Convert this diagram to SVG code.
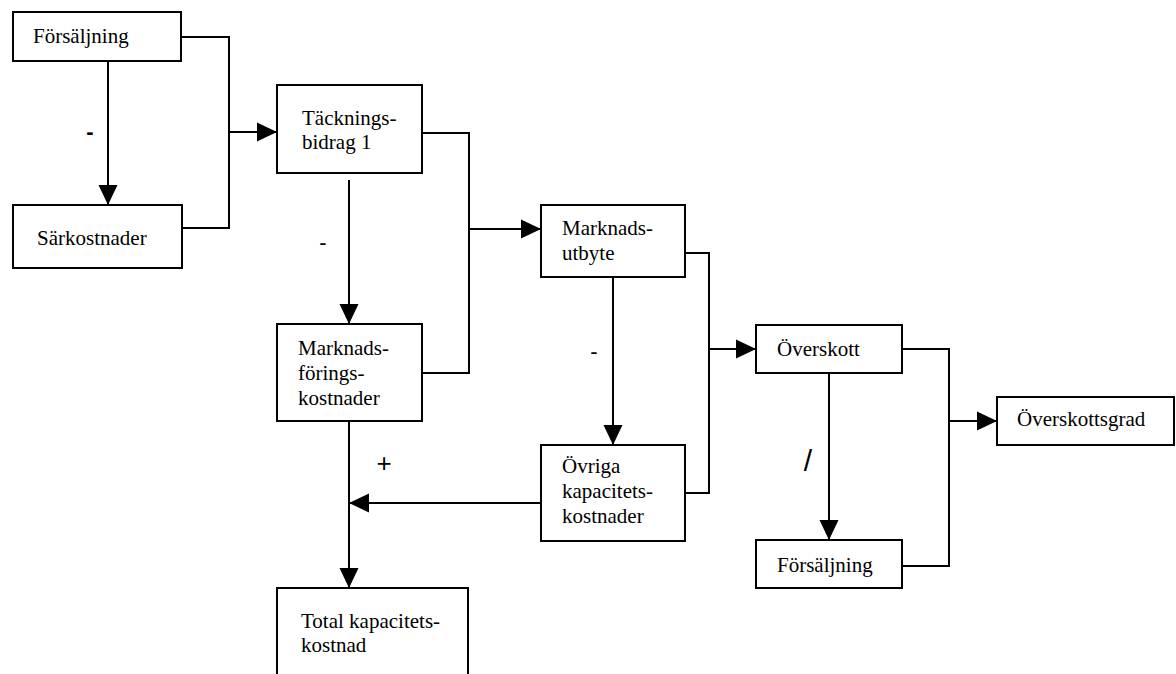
<svg xmlns="http://www.w3.org/2000/svg" width="1176" height="674" viewBox="0 0 1176 674">
<style>
  .box { fill: #fff; stroke: #000; stroke-width: 2; }
  .t { font-family: "Liberation Serif", "Times New Roman", serif; font-size: 21px; fill: #000; }
  .op { font-family: "Liberation Sans", Arial, sans-serif; fill: #000; text-anchor: middle; }
  .c { fill: none; stroke: #000; stroke-width: 2; }
  .a { fill: none; stroke: #000; stroke-width: 2; marker-end: url(#arr); }
</style>
<defs>
  <marker id="arr" viewBox="0 0 20 20" refX="20" refY="10" markerWidth="20" markerHeight="20" markerUnits="userSpaceOnUse" orient="auto">
    <path d="M0,0.5 L20,10 L0,19.5 Z" fill="#000"/>
  </marker>
</defs>
<rect width="1176" height="674" fill="#fff"/>
<g id="connectors">
  <path class="a" d="M108,61 V205"/>
  <path class="c" d="M181,37 H229 V228 H182"/>
  <path class="a" d="M229,132 H277"/>
  <path class="a" d="M349,180 V324"/>
  <path class="c" d="M422,133 H469 V373 H422"/>
  <path class="a" d="M469,229 H541"/>
  <path class="a" d="M349,421 V588"/>
  <path class="a" d="M541,503 H349"/>
  <path class="a" d="M613,277 V445"/>
  <path class="c" d="M685,253 H709 V493 H685"/>
  <path class="a" d="M709,349 H756"/>
  <path class="a" d="M829,373 V540"/>
  <path class="c" d="M902,349 H949 V566 H902"/>
  <path class="a" d="M949,421 H997"/>
  <text class="op" x="90" y="139" font-size="22" font-weight="bold">-</text>
  <text class="op" x="323" y="250" font-size="22">-</text>
  <text class="op" x="594" y="359" font-size="22">-</text>
  <text class="op" x="384" y="472" font-size="26">+</text>
  <text class="op" x="808" y="471" font-size="30">/</text>
</g>
<g id="n1"><rect class="box" x="13" y="12" width="168" height="49"/><text class="t" x="33" y="43">Försäljning</text></g>
<g id="n2"><rect class="box" x="13" y="205" width="169" height="63"/><text class="t" x="37" y="245">Särkostnader</text></g>
<g id="n3"><rect class="box" x="277" y="85" width="145" height="88"/><text class="t" x="302" y="125">Täcknings-</text><text class="t" x="302" y="149">bidrag 1</text></g>
<g id="n4"><rect class="box" x="277" y="324" width="145" height="97"/><text class="t" x="298" y="355">Marknads-</text><text class="t" x="298" y="380">förings-</text><text class="t" x="298" y="405">kostnader</text></g>
<g id="n5"><rect class="box" x="277" y="588" width="191" height="100"/><text class="t" x="301" y="628">Total kapacitets-</text><text class="t" x="301" y="652">kostnad</text></g>
<g id="n6"><rect class="box" x="541" y="205" width="144" height="72"/><text class="t" x="562" y="235">Marknads-</text><text class="t" x="562" y="260">utbyte</text></g>
<g id="n7"><rect class="box" x="541" y="445" width="144" height="96"/><text class="t" x="562" y="473">Övriga</text><text class="t" x="562" y="498">kapacitets-</text><text class="t" x="562" y="523">kostnader</text></g>
<g id="n8"><rect class="box" x="756" y="325" width="146" height="48"/><text class="t" x="777" y="356">Överskott</text></g>
<g id="n9"><rect class="box" x="756" y="540" width="146" height="48"/><text class="t" x="777" y="572">Försäljning</text></g>
<g id="n10"><rect class="box" x="997" y="397" width="177" height="48"/><text class="t" x="1017" y="426">Överskottsgrad</text></g>
</svg>
